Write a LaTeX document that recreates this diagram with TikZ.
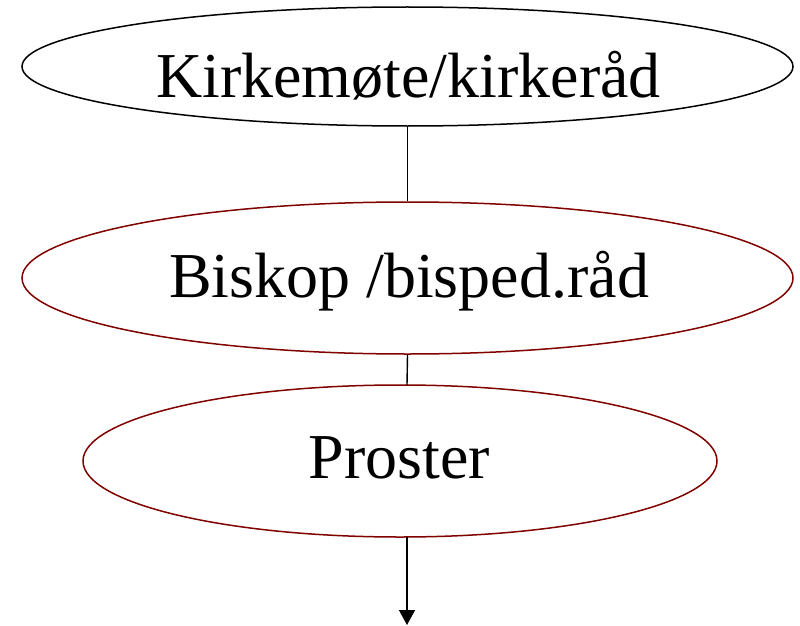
\documentclass[tikz,border=0pt]{standalone}
\usepackage{fontspec}
\setmainfont{Liberation Serif}
\usetikzlibrary{shapes.geometric,arrows.meta}
\definecolor{darkred}{RGB}{128,0,0}
\begin{document}
\begin{tikzpicture}[x=1pt,y=-1pt,
  oval/.style={draw, ellipse, line width=1.5pt, inner sep=0pt},
  lbl/.style={anchor=base, inner sep=0pt, font=\fontsize{64}{70}\selectfont},
  conn/.style={draw, line width=1.4pt}]
\useasboundingbox (0,0) rectangle (800,626);
\node[oval, minimum width=771pt, minimum height=119pt] (e1) at (407.5,66.5) {};
\node[oval, draw=darkred, minimum width=771pt, minimum height=152pt] (e2) at (407.5,278) {};
\node[oval, draw=darkred, minimum width=634pt, minimum height=152pt] (e3) at (400,461) {};
\node[lbl] (t1) at (408.5,97) {Kirkemøte/kirkeråd};
\node[lbl] (t2) at (409,297) {Biskop /bisped.råd};
\node[lbl] (t3) at (399.5,478) {Proster};
\coordinate (a2) at (407,385);
\coordinate (a3) at (407,537);
\coordinate (end) at (407,625);
\draw[conn] (e1.south) -- (e2.north);
\draw[conn] (e2.south) -- (a2);
\draw[conn, -{Triangle[length=15pt,width=16pt]}] (a3) -- (end);
\end{tikzpicture}
\end{document}
